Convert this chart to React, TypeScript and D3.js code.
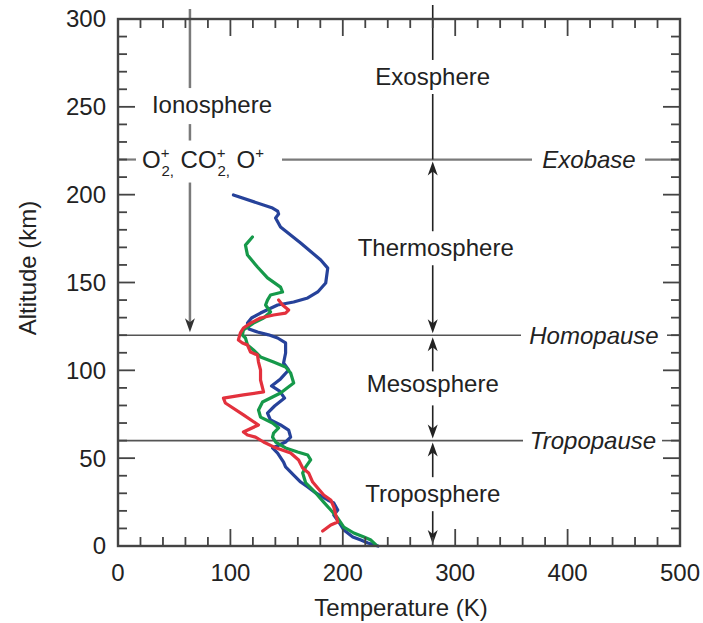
import React from 'react';
import * as d3 from 'd3';

// Temperature profiles [T (K), altitude (km)], top to bottom
const blueProfile: [number, number][] = [
  [102.7, 199.8], [137.5, 192.4], [142, 190.7], [142.9, 189], [140.2, 186.7], [144.6, 181.6],
  [162.5, 172.5], [180.4, 162.8], [186.6, 158.2], [184.8, 149.7], [177.7, 144.6], [168.8, 141.2],
  [156.3, 138.9], [142, 137.2], [126.8, 132.6], [118.8, 129.8], [115.2, 126.9], [116.5, 123.5],
  [124.1, 121.8], [133.9, 120.2], [142, 118.4], [149.1, 115.6], [149.1, 109.9], [147.3, 104.2],
  [151.8, 100.2], [144.6, 95.1], [136.6, 91.1], [143.8, 88.2], [148.2, 84.2], [139.3, 79.7],
  [133, 75.7], [135.7, 71.7], [144.6, 68.9], [151.8, 66], [153.6, 62], [149.1, 59.2],
  [137.5, 55.8], [142, 52.9], [147.3, 47.8], [149.1, 45], [156.3, 40.4], [162.5, 36.4],
  [168.8, 33.6], [175.9, 30.2], [186.6, 26.2], [192, 24.5], [195.5, 20.5], [192, 17.6],
  [196.4, 13.7], [200.9, 9.1], [208.9, 5.1], [216.1, 3.4], [222.3, 1.7], [231.3, 0],
];

const redProfile: [number, number][] = [
  [142.9, 140], [146.4, 137.2], [151.8, 134.3], [149.1, 132.6], [138.4, 131.5], [126.8, 129.8],
  [117.9, 126.9], [111.6, 124.1], [108.9, 121.3], [107.1, 117.3], [110.7, 115.6], [115.2, 114.4],
  [117.9, 110.4], [124.1, 108.7], [125, 104.7], [126.8, 100.2], [126.8, 94.5], [129.5, 87.7],
  [111.6, 86], [93.8, 84.2], [95.5, 81.4], [111.6, 74.6], [125, 68.9], [111.6, 64.9],
  [115.2, 63.2], [122.3, 62], [129.5, 59.2], [138.4, 56.4], [153.6, 52.9], [160.7, 49],
  [164.3, 44.4], [169.6, 41.6], [173.2, 36.4], [177.7, 33], [183, 29], [189.3, 26.2],
  [192, 22.2], [193.8, 17.6], [195.5, 13.7], [189.3, 12], [182.1, 8.5],
];

const greenProfile: [number, number][] = [
  [119.6, 175.9], [113.4, 171.3], [115.2, 165.6], [124.1, 158.8], [133, 152.6], [144.6, 147.4],
  [146.4, 144.6], [135.7, 142.9], [133, 140], [131.3, 137.2], [135.7, 133.2], [129.5, 129.8],
  [120.5, 126.9], [111.6, 123], [110.7, 120.1], [113.4, 118.4], [115.2, 114.4], [120.5, 111.6],
  [126.8, 107.6], [138.4, 104.7], [149.1, 101.9], [153.6, 98.5], [156.3, 92.8], [144.6, 87.1],
  [137.5, 84.8], [128.6, 82], [125, 77.4], [126.8, 73.4], [137.5, 70], [142.9, 67.2],
  [138.4, 64.3], [137.5, 62], [140.2, 59.2], [149.1, 55.8], [159.8, 53.5], [168.8, 51.8],
  [171.4, 49], [167, 45], [164.3, 41.6], [167, 35.9], [175.9, 30.2], [183, 25],
  [189.3, 20.5], [195.5, 15.9], [200.9, 10.8], [209.8, 7.4], [218.8, 5.1], [225, 3.4], [229.5, 0.6],
];

const profiles = [
  { data: blueProfile, color: '#26429a' },
  { data: greenProfile, color: '#16994a' },
  { data: redProfile, color: '#e3313d' },
];

// layer boundaries (km) and layer labels
const boundaryNames = ['Exobase', 'Homopause', 'Tropopause'];
const boundaryAlts = [220, 120, 60];
const layerNames = ['Exosphere', 'Thermosphere', 'Mesosphere', 'Troposphere'];
const layerLabelAlts = [267, 169.5, 92, 29.5];
const layerLineTemp = 280;
const ionoLineTemp = 64;
const ionoLabelAlt = 251;

const W = 703;
const H = 623;
const margin = { top: 19, right: 23, bottom: 77, left: 118 };
const FONT = '"Liberation Sans", Arial, Helvetica, sans-serif';
const FS = 24;

const x = d3.scaleLinear().domain([0, 500]).range([margin.left, W - margin.right]);
const y = d3.scaleLinear().domain([0, 300]).range([H - margin.bottom, margin.top]);

const line = d3.line<[number, number]>().x(d => x(d[0])).y(d => y(d[1]));

const arrow = (cx: number, tip: number, dir: 1 | -1) =>
  `M${cx},${tip} L${cx - 5},${tip - dir * 14} L${cx},${tip - dir * 10} L${cx + 5},${tip - dir * 14} Z`;

export default function App() {
  const x0 = x(0), x1 = x(500), y0 = y(0), y1 = y(300);
  const xTicks = x.ticks(25);
  const yTicks = y.ticks(30);
  const lx = x(layerLineTemp);
  const ix = x(ionoLineTemp);
  const exoY = y(boundaryAlts[0]);
  const homoY = y(boundaryAlts[1]);
  const tropoY = y(boundaryAlts[2]);
  const ink = '#222';

  // layer label centres
  const ly = layerLabelAlts.map(a => y(a));
  const gap = 17;

  return (
    <svg width={W} height={H} style={{ position: 'absolute', left: 0, top: 0, background: '#fff' }}
      fontFamily={FONT}>
      {/* boundary lines */}
      <g stroke="#7a7a7a" strokeWidth={2.2}>
        <line x1={x0} x2={136} y1={exoY} y2={exoY} />
        <line x1={282} x2={532} y1={exoY} y2={exoY} />
        <line x1={645} x2={x1} y1={exoY} y2={exoY} />
      </g>
      <g stroke="#555" strokeWidth={1.6}>
        <line x1={x0} x2={521} y1={homoY} y2={homoY} />
        <line x1={667} x2={x1} y1={homoY} y2={homoY} />
        <line x1={x0} x2={523} y1={tropoY} y2={tropoY} />
        <line x1={662} x2={x1} y1={tropoY} y2={tropoY} />
      </g>

      {/* ionosphere line */}
      <g stroke="#7a7a7a" strokeWidth={2.5}>
        <line x1={ix} x2={ix} y1={9} y2={y(ionoLabelAlt) - gap} />
        <line x1={ix} x2={ix} y1={y(ionoLabelAlt) + 19} y2={exoY - 19} />
        <line x1={ix} x2={ix} y1={exoY + 23} y2={homoY - 10} />
      </g>
      <path d={arrow(ix, homoY - 3, 1)} fill="#333" />

      {/* layer arrows */}
      <g stroke={ink} strokeWidth={1.6}>
        <line x1={lx} x2={lx} y1={5} y2={ly[0] - gap} />
        <line x1={lx} x2={lx} y1={ly[0] + gap} y2={exoY} />
        <line x1={lx} x2={lx} y1={exoY + 8} y2={ly[1] - gap} />
        <line x1={lx} x2={lx} y1={ly[1] + gap} y2={homoY - 8} />
        <line x1={lx} x2={lx} y1={homoY + 8} y2={ly[2] - gap + 4} />
        <line x1={lx} x2={lx} y1={ly[2] + gap + 4} y2={tropoY - 8} />
        <line x1={lx} x2={lx} y1={tropoY + 8} y2={ly[3] - gap} />
        <line x1={lx} x2={lx} y1={ly[3] + gap} y2={y0 - 8} />
      </g>
      <g fill={ink}>
        <path d={arrow(lx, exoY + 2, -1)} />
        <path d={arrow(lx, homoY - 2, 1)} />
        <path d={arrow(lx, homoY + 2, -1)} />
        <path d={arrow(lx, tropoY - 2, 1)} />
        <path d={arrow(lx, tropoY + 2, -1)} />
        <path d={arrow(lx, y0 - 2, 1)} />
      </g>

      {/* profiles */}
      {profiles.map((p, i) => (
        <path key={i} d={line(p.data) || ''} fill="none" stroke={p.color} strokeWidth={3.2}
          strokeLinejoin="round" strokeLinecap="round" />
      ))}

      {/* frame + inward ticks */}
      <g stroke="#444" strokeWidth={1.8}>
        {xTicks.map(t => {
          const len = t % 100 === 0 ? 17 : 9;
          return (
            <g key={'x' + t}>
              <line x1={x(t)} x2={x(t)} y1={y0} y2={y0 - len} />
              <line x1={x(t)} x2={x(t)} y1={y1} y2={y1 + len} />
            </g>
          );
        })}
        {yTicks.map(t => {
          const len = t % 50 === 0 ? 17 : 9;
          return (
            <g key={'y' + t}>
              <line x1={x0} x2={x0 + len} y1={y(t)} y2={y(t)} />
              <line x1={x1} x2={x1 - len} y1={y(t)} y2={y(t)} />
            </g>
          );
        })}
      </g>
      <rect x={x0} y={y1} width={x1 - x0} height={y0 - y1} fill="none" stroke="#444" strokeWidth={2.4} />

      {/* tick labels */}
      <g fill={ink} fontSize={FS}>
        {xTicks.filter(t => t % 100 === 0).map(t => (
          <text key={'xl' + t} x={x(t)} y={581} textAnchor="middle">{t}</text>
        ))}
        {yTicks.filter(t => t % 50 === 0).map(t => (
          <text key={'yl' + t} x={106} y={y(t)} dy="0.35em" textAnchor="end">{t}</text>
        ))}
        <text x={401} y={616} textAnchor="middle">Temperature (K)</text>
        <text transform={`translate(36,${268}) rotate(-90)`} textAnchor="middle">Altitude (km)</text>
      </g>

      {/* annotations */}
      <g fill={ink} fontSize={FS}>
        {layerNames.map((n, i) => (
          <text key={n} x={lx + (i === 1 ? 3 : 0)} y={ly[i]} dy="0.33em" textAnchor="middle">{n}</text>
        ))}
        <text x={212} y={y(ionoLabelAlt)} dy="0.33em" textAnchor="middle">Ionosphere</text>
        <text x={142} y={exoY + 8}>
          O<tspan fontSize={15} dy={-10}>+</tspan><tspan fontSize={15} dx={-8} dy={18}>2,</tspan>
          <tspan dy={-8}> CO</tspan><tspan fontSize={15} dy={-10}>+</tspan><tspan fontSize={15} dx={-8} dy={18}>2,</tspan>
          <tspan dy={-8}> O</tspan><tspan fontSize={15} dy={-10}>+</tspan>
        </text>
        {boundaryNames.map((n, i) => (
          <text key={n} x={[589, 594, 593][i]} y={y(boundaryAlts[i])} dy="0.35em" textAnchor="middle"
            fontStyle="italic">{n}</text>
        ))}
      </g>
    </svg>
  );
}
